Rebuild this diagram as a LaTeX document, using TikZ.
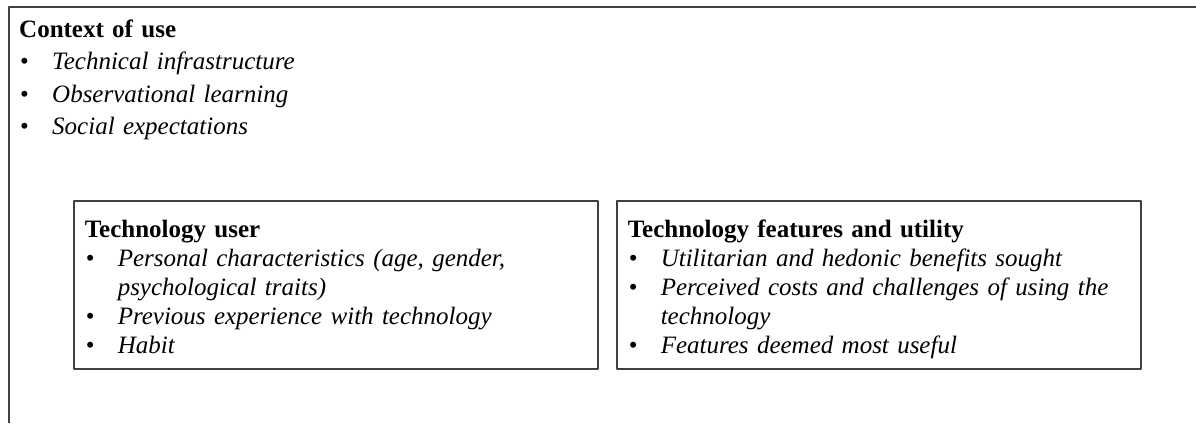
\documentclass[tikz,border=0pt]{standalone}
\usepackage{fontspec}
\setmainfont{Liberation Serif}
\usepackage{tikz}
\hyphenpenalty=10000
\exhyphenpenalty=10000
\tikzset{frame/.style={draw=black!75,line width=1.5pt}}
\tikzset{boxed/.style={frame,anchor=north west,inner xsep=11pt,inner ysep=4pt,text width=502pt,minimum height=168pt,align=left}}
\newcommand{\hd}[2][25pt]{\rule{0pt}{#1}\textbf{#2}}
\newcommand{\itm}[1]{\par\hangindent=33pt\hangafter=1\hspace*{1pt}\makebox[32pt][l]{\textbullet}\textit{#1}}

\begin{document}
\begin{tikzpicture}[x=1pt,y=-1pt,line join=round]
  \useasboundingbox (0,0) rectangle (1196,423);
  \coordinate (tr) at (1196,7);
  \coordinate (bl) at (9,423);
  \draw[frame] (tr) -| (bl);
  \begin{scope}[font=\fontsize{25}{29}\selectfont]
    \node[anchor=north west,inner sep=0pt,text width=700pt,align=left,
          font=\fontsize{25}{32.5}\selectfont] (ctx) at (19,12)
      {\hd{Context of use}
       \itm{Technical infrastructure}
       \itm{Observational learning}
       \itm{Social expectations}};
    \node[boxed] (user) at (73,200)
      {\hd[30pt]{Technology user}
       \itm{Personal characteristics (age, gender, psychological traits)}
       \itm{Previous experience with technology}
       \itm{Habit\strut}};
    \node[boxed] (feat) at (616,200)
      {\hd[30pt]{Technology features and utility}
       \itm{Utilitarian and hedonic benefits sought}
       \itm{Perceived costs and challenges of using the technology}
       \itm{Features deemed most useful\strut}};
  \end{scope}
\end{tikzpicture}
\end{document}
